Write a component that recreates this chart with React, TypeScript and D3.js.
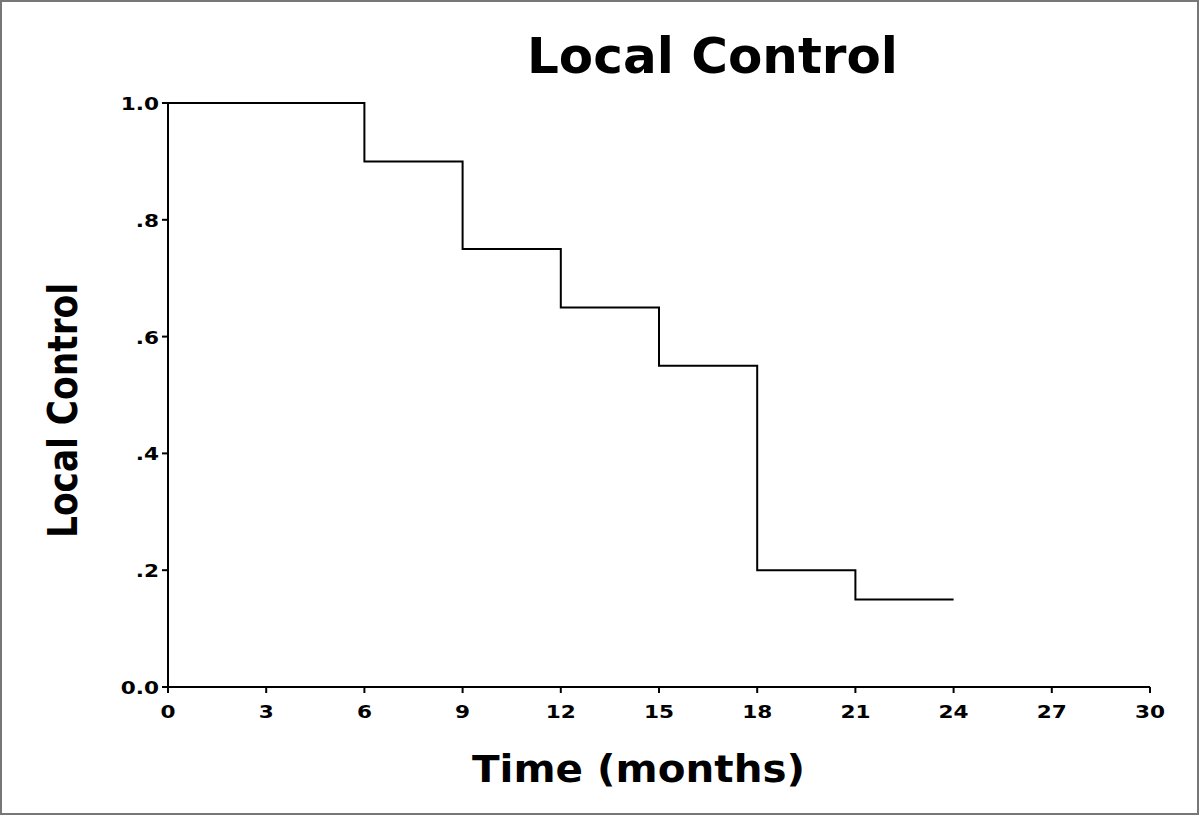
import React from "react";
import * as d3 from "d3";

const times = [0, 6, 9, 12, 15, 18, 21, 24];
const survival = [1.0, 0.9, 0.75, 0.65, 0.55, 0.2, 0.15, 0.15];
const xTicks = [0, 3, 6, 9, 12, 15, 18, 21, 24, 27, 30];
const yTicks = [0, 0.2, 0.4, 0.6, 0.8, 1.0];
const yTickLabels = ["0.0", ".2", ".4", ".6", ".8", "1.0"];
const title = "Local Control";
const xLabel = "Time (months)";
const yLabel = "Local Control";

const W = 1200;
const H = 816;
const font = "'DejaVu Sans', Verdana, sans-serif";

export default function App() {
  const x = d3.scaleLinear().domain([0, 30]).range([168, 1150]);
  const y = d3.scaleLinear().domain([0, 1]).range([687, 103]);
  const pts: [number, number][] = times.map((t, i) => [t, survival[i]]);
  const line = d3
    .line<[number, number]>()
    .x((d) => x(d[0]))
    .y((d) => y(d[1]))
    .curve(d3.curveStepAfter);

  return (
    <svg
      width={W}
      height={H}
      style={{ position: "absolute", left: 0, top: 0, background: "#fff" }}
    >
      <rect x={0} y={0} width={W} height={H} fill="#fff" />
      <rect x={1} y={1} width={W - 3} height={H - 3} fill="none" stroke="#777" strokeWidth={2} />
      <text
        x={712.5}
        y={73}
        textAnchor="middle"
        fontFamily={font}
        fontWeight="bold"
        fontSize={49}
        textLength={371}
        lengthAdjust="spacingAndGlyphs"
        fill="#000"
      >
        {title}
      </text>
      {/* axes */}
      <line x1={x(0)} x2={x(30)} y1={y(0)} y2={y(0)} stroke="#000" strokeWidth={2} />
      <line x1={x(0)} x2={x(0)} y1={y(0)} y2={y(1)} stroke="#000" strokeWidth={2} />
      {xTicks.map((t) => (
        <g key={"xt" + t}>
          <line x1={x(t)} x2={x(t)} y1={y(0)} y2={y(0) + 6} stroke="#000" strokeWidth={2} />
          <g transform={`translate(${x(t)},718) scale(1.2,1)`}>
            <text
              x={0}
              y={0}
              textAnchor="middle"
              fontFamily={font}
              fontWeight="bold"
              fontSize={18}
              fill="#000"
            >
              {t}
            </text>
          </g>
        </g>
      ))}
      {yTicks.map((t, i) => (
        <g key={"yt" + t}>
          <line x1={x(0) - 6} x2={x(0)} y1={y(t)} y2={y(t)} stroke="#000" strokeWidth={2} />
          <g transform={`translate(159,${y(t) + 7}) scale(1.2,1)`}>
            <text
              x={0}
              y={0}
              textAnchor="end"
              fontFamily={font}
              fontWeight="bold"
              fontSize={18}
              fill="#000"
            >
              {yTickLabels[i]}
            </text>
          </g>
        </g>
      ))}
      <path d={line(pts) || ""} fill="none" stroke="#000" strokeWidth={2} />
      <text
        x={638.5}
        y={782}
        textAnchor="middle"
        fontFamily={font}
        fontWeight="bold"
        fontSize={37}
        textLength={333}
        lengthAdjust="spacingAndGlyphs"
        fill="#000"
      >
        {xLabel}
      </text>
      <text
        transform={`translate(77,410.5) rotate(-90)`}
        textAnchor="middle"
        fontFamily={font}
        fontWeight="bold"
        fontSize={40}
        textLength={255}
        lengthAdjust="spacingAndGlyphs"
        fill="#000"
      >
        {yLabel}
      </text>
    </svg>
  );
}
